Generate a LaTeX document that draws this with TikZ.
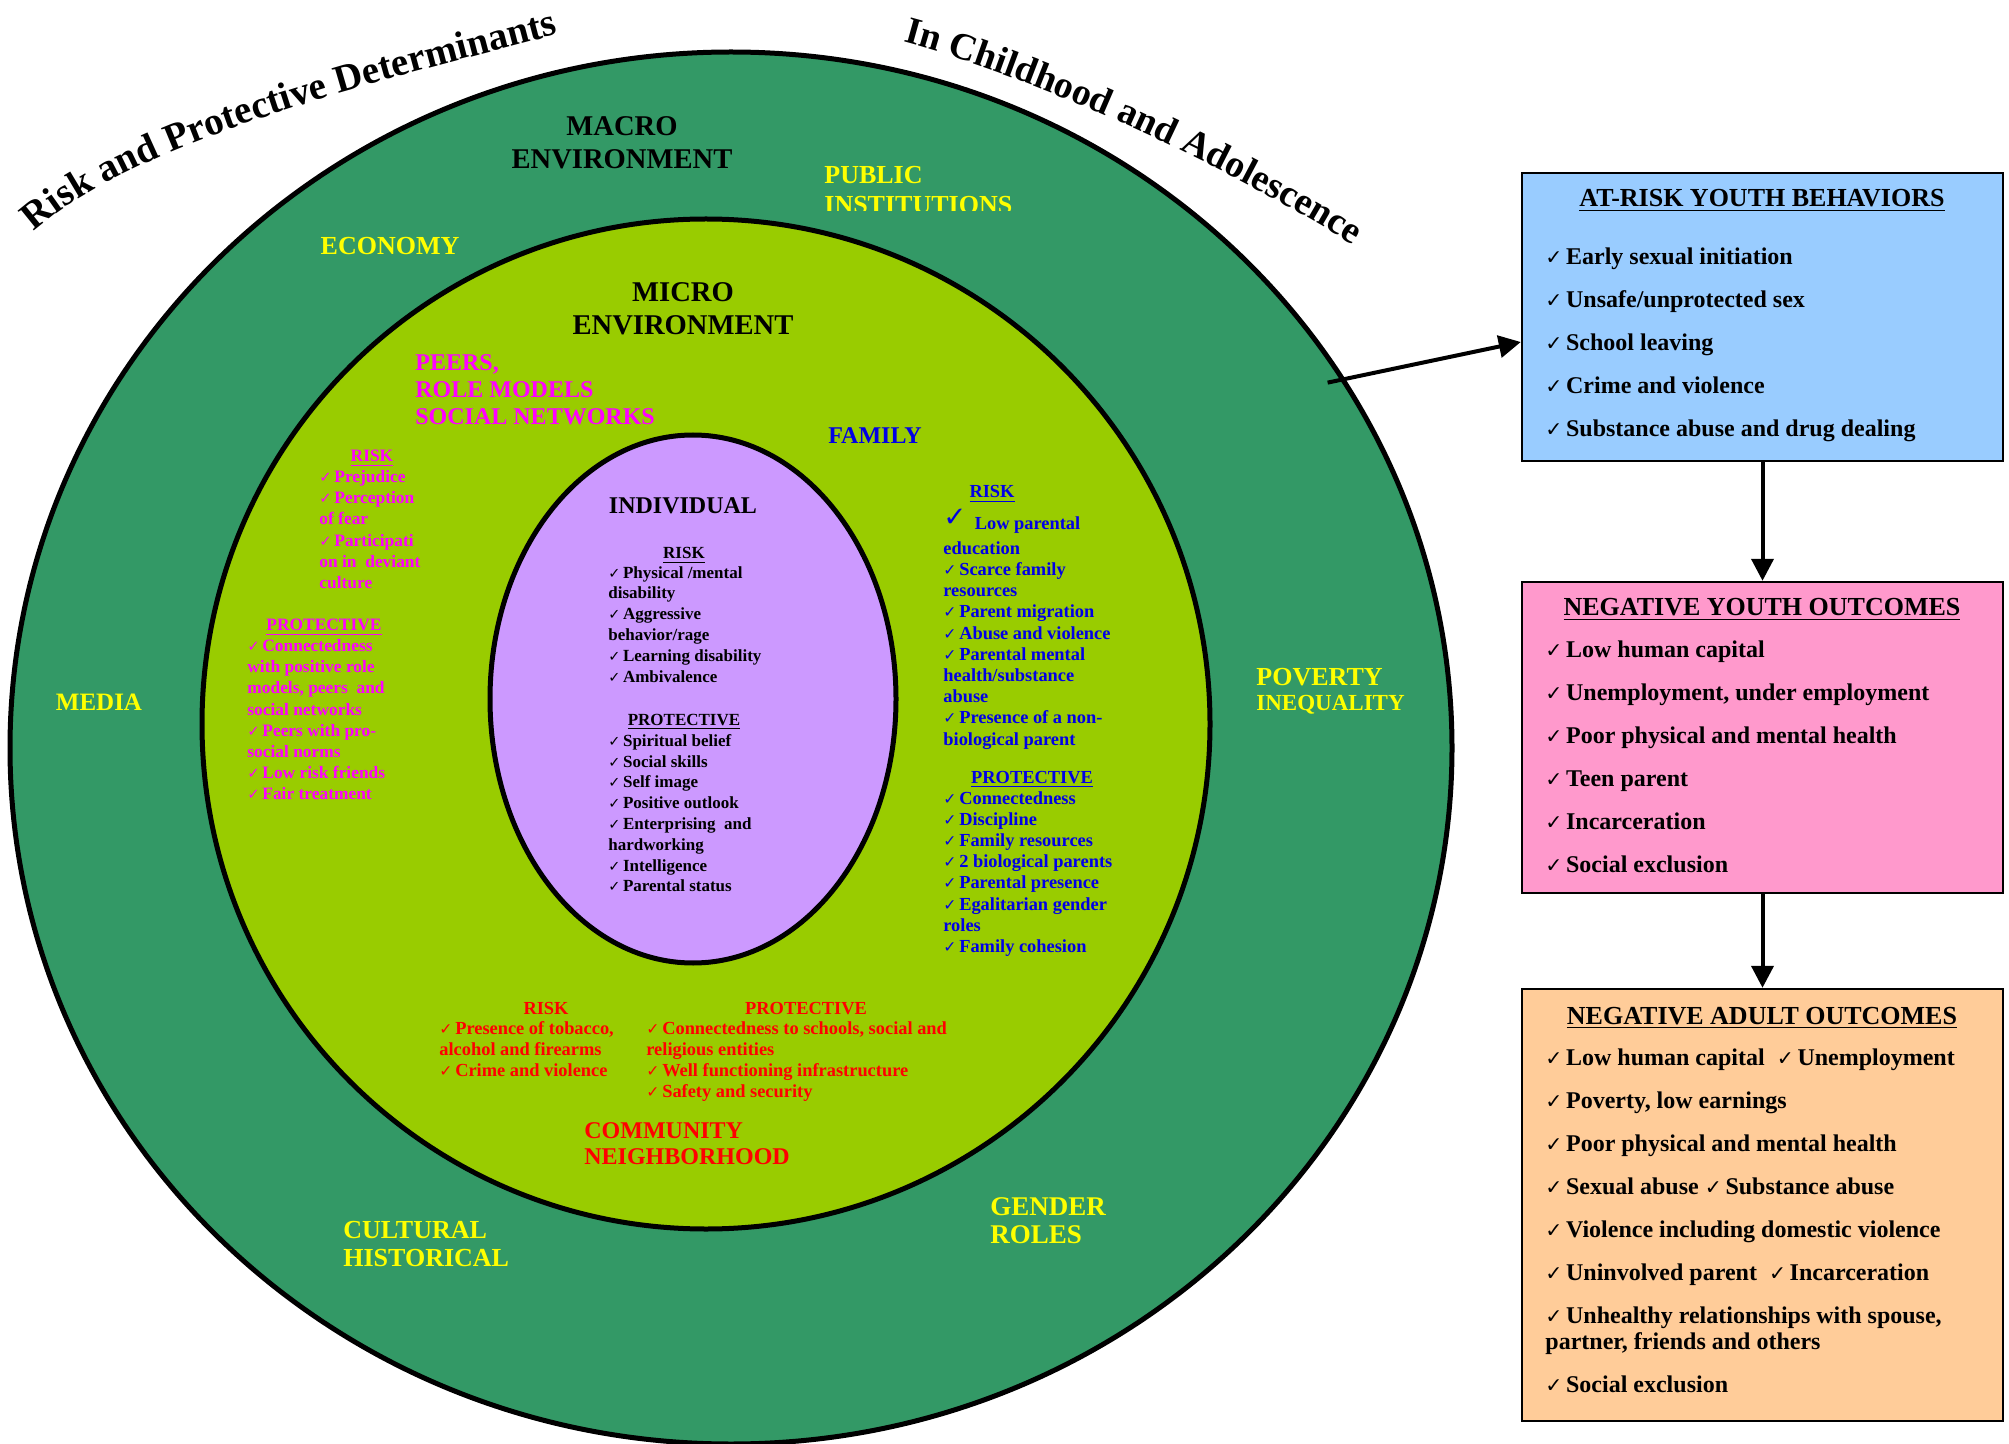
\documentclass[tikz,border=0pt]{standalone}
\usepackage{fontspec}
\setmainfont{Liberation Serif}
\newfontfamily\ckfont{DejaVu Sans}
\usetikzlibrary{shapes.geometric,arrows.meta,decorations.text}

\definecolor{macrogreen}{HTML}{339966}
\definecolor{microgreen}{HTML}{99CC00}
\definecolor{indpurple}{HTML}{CC99FF}
\definecolor{boxblue}{HTML}{99CCFF}
\definecolor{boxpink}{HTML}{FF99CC}
\definecolor{boxorange}{HTML}{FFCC99}
\definecolor{labyellow}{HTML}{FFFF00}
\definecolor{peermag}{HTML}{FF00FF}
\definecolor{famblue}{HTML}{0000E6}
\definecolor{comred}{HTML}{FF0000}

\newcommand\setfs[2]{\fontsize{#1}{#2}\selectfont}
\newcommand\ck{{\ckfont\scalebox{0.85}{✓}}\hspace{0.15em}}
\newcommand\bigck{\smash{\raisebox{0.15em}{\ckfont\scalebox{1.5}{✓}}}\hspace{0.45em}}

\begin{document}
\begin{tikzpicture}[x=0.5pt,y=-0.5pt,
  ring/.style={ellipse, draw=black, line width=2.5pt, inner sep=0pt},
  box/.style={rectangle, draw=black, line width=1.2pt, inner sep=0pt, minimum width=240.5pt},
  conn/.style={line width=2pt, -{Triangle[length=11pt,width=11pt]}},
  outerlbl/.style={inner sep=0pt, text=labyellow, align=left, font=\bfseries\setfs{13pt}{14pt}},
  envlbl/.style={inner sep=0pt, align=center, font=\bfseries\setfs{14.3pt}{16.5pt}},
  head/.style={anchor=base, inner sep=0pt},
  items/.style={anchor=north west, inner sep=0pt, align=left},
  boxtitle/.style={anchor=base, inner sep=0pt, font=\bfseries\setfs{13pt}{15pt}},
  boxitems/.style={anchor=north west, inner sep=0pt, align=left, font=\bfseries\setfs{12pt}{21.5pt}}
]
\useasboundingbox (0,0) rectangle (2009,1444);

% nested environments
\node[ring, fill=macrogreen, minimum width=721pt, minimum height=696pt] (macro) at (731,748) {};
\node[ring, fill=microgreen, minimum width=504pt, minimum height=505pt] (micro) at (706,724) {};
\node[ring, fill=indpurple, minimum width=203pt, minimum height=264pt] (indiv) at (693,699) {};

% curved titles
\path[decorate, decoration={text along path, text align=left,
  text={|\bfseries\setfs{19.5pt}{23pt}|Risk and Protective Determinants}}]
  (34,232) .. controls (145,132) and (420,72) .. (580,28);
\path[decorate, decoration={text along path, text align=left,
  text={|\bfseries\setfs{19pt}{23pt}|In Childhood and Adolescence}}]
  (903,42) .. controls (1048,81) and (1249,176) .. (1380,262);

% macro environment labels
\node[envlbl] (macrolbl) at (622,143) {MACRO\\ENVIRONMENT};
\begin{scope}
  \clip (800,150) rectangle (1060,211);
  \node[outerlbl, anchor=west, font=\bfseries\setfs{13pt}{15pt}] (publiclbl) at (824,190) {PUBLIC\\INSTITUTIONS};
\end{scope}
\node[outerlbl] (economylbl) at (390,246) {ECONOMY};
\node[outerlbl, font=\bfseries\setfs{12.5pt}{14pt}] (medialbl) at (99,702) {MEDIA};
\node[outerlbl, anchor=west, font=\bfseries\setfs{13pt}{12.5pt}] (povertylbl) at (1256,691) {POVERTY\\{\setfs{11.5pt}{12.5pt}INEQUALITY}};
\node[outerlbl, anchor=west] (culturallbl) at (343,1244) {CULTURAL\\HISTORICAL};
\node[outerlbl, anchor=west, font=\bfseries\setfs{13.5pt}{14pt}] (genderlbl) at (990,1221) {GENDER\\ROLES};

% micro environment labels
\node[envlbl] (microlbl) at (683,309) {MICRO\\ENVIRONMENT};
\node[inner sep=0pt, anchor=west, align=left, text=peermag, font=\bfseries\setfs{12pt}{13.5pt}] (peerslbl) at (415,390) {PEERS,\\ROLE MODELS\\SOCIAL NETWORKS};
\node[inner sep=0pt, text=famblue, font=\bfseries\setfs{12pt}{14pt}] (familylbl) at (875,436) {FAMILY};
\node[inner sep=0pt, anchor=west, align=left, text=comred, font=\bfseries\setfs{12pt}{13pt}] (communitylbl) at (584,1144) {COMMUNITY\\NEIGHBORHOOD};

% peers, role models, social networks
\begin{scope}[every node/.append style={text=peermag, font=\bfseries\setfs{8.7pt}{10.6pt}}]
  \node[head] (peerrisk) at (372,462) {\underline{RISK}};
  \node[items] (peerriskitems) at (319,470) {\ck Prejudice\\ \ck Perception\\of fear\\ \ck Participati\\on in \ deviant\\culture};
  \node[head] (peerprot) at (324,631) {\underline{PROTECTIVE}};
  \node[items] (peerprotitems) at (247,639) {\ck Connectedness\\with positive role\\models, peers \ and\\social networks\\ \ck Peers with pro-\\social norms\\ \ck Low risk friends\\ \ck Fair treatment};
\end{scope}

% individual
\node[inner sep=0pt, font=\bfseries\setfs{12pt}{14pt}] (indivlbl) at (683,506) {INDIVIDUAL};
\begin{scope}[every node/.append style={font=\bfseries\setfs{8.5pt}{10.4pt}}]
  \node[head] (indrisk) at (684,559) {\underline{RISK}};
  \node[items] (indriskitems) at (608,566) {\ck Physical /mental\\disability\\ \ck Aggressive\\behavior/rage\\ \ck Learning disability\\ \ck Ambivalence};
  \node[head] (indprot) at (684,725) {\underline{PROTECTIVE}};
  \node[items] (indprotitems) at (608,734) {\ck Spiritual belief\\ \ck Social skills\\ \ck Self image\\ \ck Positive outlook\\ \ck Enterprising \ and\\hardworking\\ \ck Intelligence\\ \ck Parental status};
\end{scope}

% family
\begin{scope}[every node/.append style={text=famblue, font=\bfseries\setfs{9.2pt}{10.6pt}}]
  \node[head] (famrisk) at (992,498) {\underline{RISK}};
  \node[items] (famriskitems) at (943,516) {\bigck Low parental\\[2pt]education\\ \ck Scarce family\\resources\\ \ck Parent migration\\ \ck Abuse and violence\\ \ck Parental mental\\health/substance\\abuse\\ \ck Presence of a non-\\biological parent};
  \node[head] (famprot) at (1032,783) {\underline{PROTECTIVE}};
  \node[items] (famprotitems) at (943,791) {\ck Connectedness\\ \ck Discipline\\ \ck Family resources\\ \ck 2 biological parents\\ \ck Parental presence\\ \ck Egalitarian gender\\roles\\ \ck Family cohesion};
\end{scope}

% community, neighborhood
\begin{scope}[every node/.append style={text=comred, font=\bfseries\setfs{9.2pt}{10.6pt}}]
  \node[head] (comrisk) at (546,1014) {RISK};
  \node[items] (comriskitems) at (439,1021) {\ck Presence of tobacco,\\alcohol and firearms\\ \ck Crime and violence};
  \node[head] (comprot) at (806,1014) {PROTECTIVE};
  \node[items] (comprotitems) at (646,1021) {\ck Connectedness to schools, social and\\religious entities\\ \ck Well functioning infrastructure\\ \ck Safety and security};
\end{scope}

% outcome boxes
\node[box, fill=boxblue, minimum height=144pt] (atrisk) at (1762.5,317) {};
\node[box, fill=boxpink, minimum height=155.5pt] (youth) at (1762.5,737.5) {};
\node[box, fill=boxorange, minimum height=216pt] (adult) at (1762.5,1205) {};

\node[boxtitle] (atrisktitle) at (1762,207) {\underline{AT-RISK YOUTH BEHAVIORS}};
\node[boxitems] (atriskitems) at (1545,247) {\ck Early sexual initiation\\ \ck Unsafe/unprotected sex\\ \ck School leaving\\ \ck Crime and violence\\ \ck Substance abuse and drug dealing};

\node[boxtitle] (youthtitle) at (1762,616) {\underline{NEGATIVE YOUTH OUTCOMES}};
\node[boxitems] (youthitems) at (1545,640) {\ck Low human capital\\ \ck Unemployment, under employment\\ \ck Poor physical and mental health\\ \ck Teen parent\\ \ck Incarceration\\ \ck Social exclusion};

\node[boxtitle] (adulttitle) at (1762,1024) {\underline{NEGATIVE ADULT OUTCOMES}};
\node[boxitems] (adultitems) at (1545,1048) {\ck Low human capital \ \ck Unemployment\\ \ck Poverty, low earnings\\ \ck Poor physical and mental health\\ \ck Sexual abuse \ck Substance abuse\\ \ck Violence including domestic violence\\ \ck Uninvolved parent \ \ck Incarceration\\ \ck Unhealthy relationships with spouse,\\[-8.5pt]partner, friends and others\\ \ck Social exclusion};

% connectors
\draw[conn, shorten <=-9pt] (macro.31) -- ([yshift=-12.5pt]atrisk.west);
\draw[conn] (atrisk.south) -- (youth.north);
\draw[conn] (youth.south) -- (adult.north);
\end{tikzpicture}
\end{document}
